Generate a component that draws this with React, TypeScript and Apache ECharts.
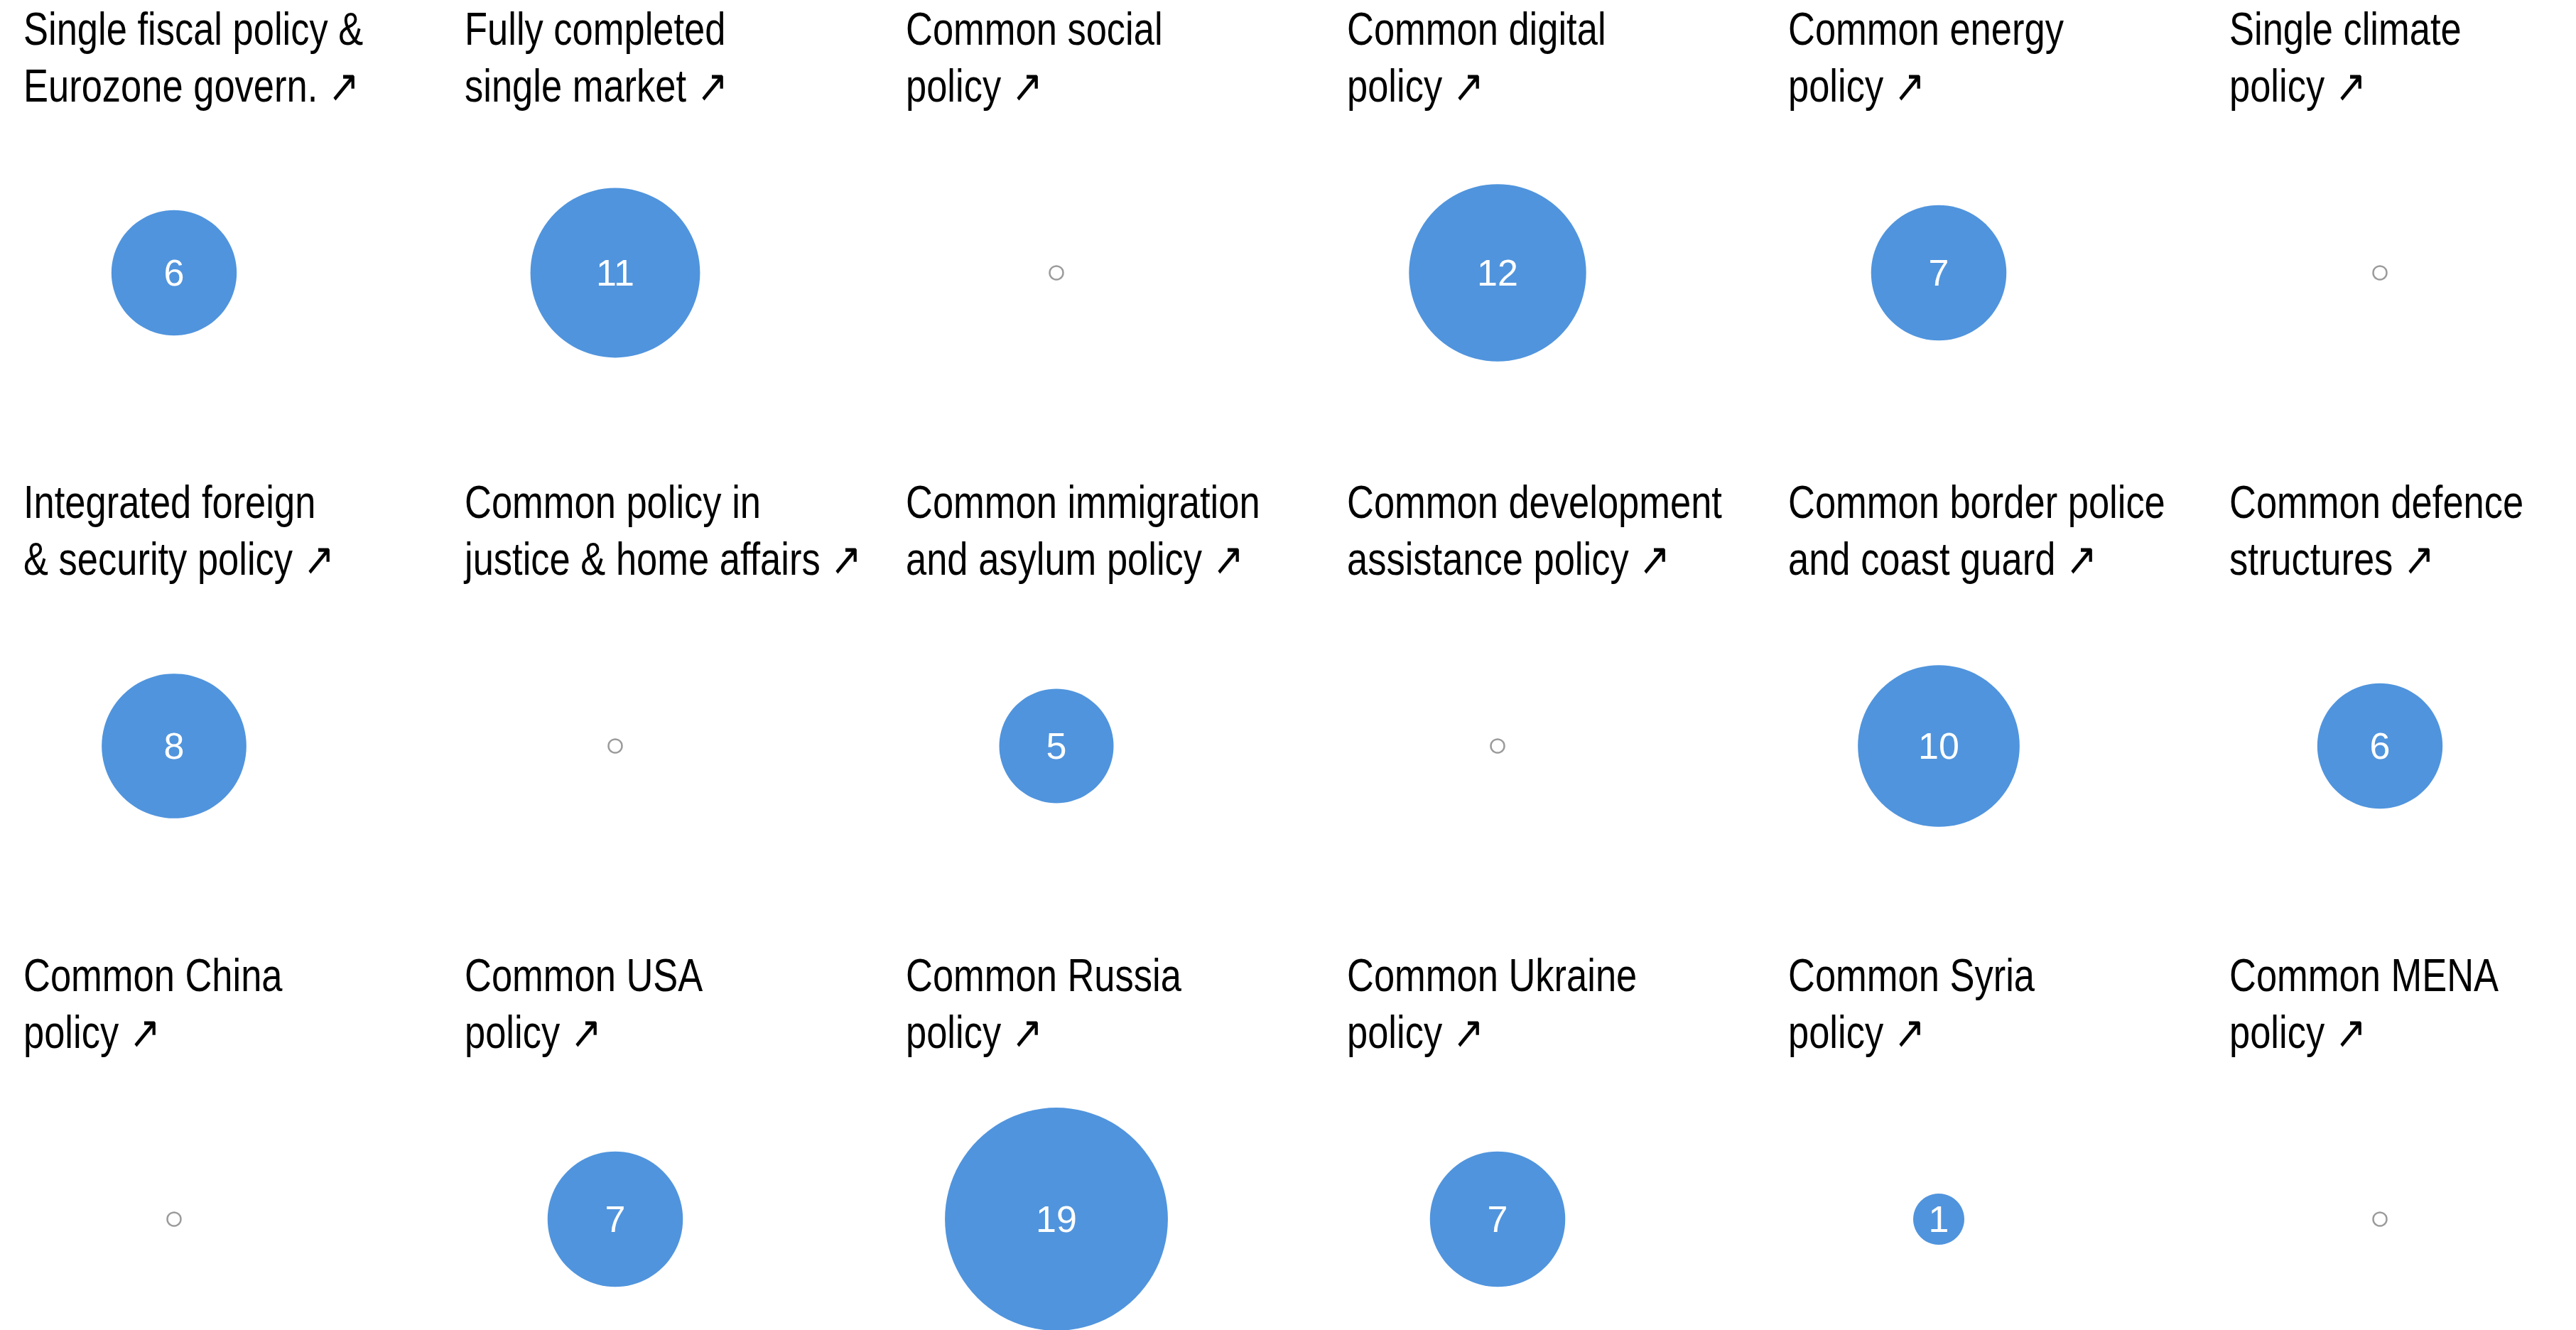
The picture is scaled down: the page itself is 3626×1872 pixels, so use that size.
import React, { useEffect, useRef } from "react";
import * as echarts from "echarts";

const titles: string[] = [
  "Single fiscal policy &\nEurozone govern. ↗",
  "Fully completed\nsingle market ↗",
  "Common social\npolicy ↗",
  "Common digital\npolicy ↗",
  "Common energy\npolicy ↗",
  "Single climate\npolicy ↗",
  "Integrated foreign\n& security policy ↗",
  "Common policy in\njustice & home affairs ↗",
  "Common immigration\nand asylum policy ↗",
  "Common development\nassistance policy ↗",
  "Common border police\nand coast guard ↗",
  "Common defence\nstructures ↗",
  "Common China\npolicy ↗",
  "Common USA\npolicy ↗",
  "Common Russia\npolicy ↗",
  "Common Ukraine\npolicy ↗",
  "Common Syria\npolicy ↗",
  "Common MENA\npolicy ↗",
];

const values: number[] = [6, 11, 0, 12, 7, 0, 8, 0, 5, 0, 10, 6, 0, 7, 19, 7, 1, 0];

const NCOLS = 6;
const FONT = "'Liberation Sans', Arial, sans-serif";
const BLUE = "#5094dd";

export default function App() {
  const ref = useRef<HTMLDivElement>(null);
  useEffect(() => {
    if (!ref.current) return;
    const chart = echarts.init(ref.current, undefined, { renderer: "svg" });
    const colW = 621;
    const rowH = 666;
    const data = values.map((v, i) => [i % NCOLS, Math.floor(i / NCOLS), v]);
    chart.setOption({
      animation: false,
      backgroundColor: "#ffffff",
      graphic: titles.map((t, i) => ({
        type: "text",
        x: 33 + colW * (i % NCOLS),
        y: 1 + rowH * Math.floor(i / NCOLS),
        scaleX: 0.82,
        silent: true,
        style: {
          text: t,
          fontFamily: FONT,
          fontSize: 64,
          lineHeight: 80,
          fill: "#000000",
          verticalAlign: "top",
          align: "left",
        },
      })),
      grid: { left: 245, right: 276, top: 384, bottom: 156 },
      xAxis: { type: "value", min: 0, max: 5, show: false },
      yAxis: { type: "value", min: 0, max: 2, inverse: true, show: false },
      series: [
        {
          type: "scatter",
          data: data.map((d) => ({
            value: d,
            itemStyle:
              d[2] > 0
                ? { color: BLUE, opacity: 1 }
                : { color: "#ffffff", borderColor: "#9a9a9a", borderWidth: 2.5, opacity: 1 },
            label: { show: d[2] > 0 },
          })),
          symbol: "circle",
          symbolSize: (v: number[]) => (v[2] > 0 ? 72 * Math.sqrt(v[2]) : 19),
          itemStyle: { opacity: 1 },
          label: {
            position: "inside",
            formatter: (p: any) => String(p.value[2]),
            color: "#ffffff",
            fontFamily: FONT,
            fontSize: 52,
          },
          emphasis: { disabled: true },
        },
      ],
    });
    return () => chart.dispose();
  }, []);
  return (
    <div
      ref={ref}
      style={{ position: "absolute", left: 0, top: 0, width: 3626, height: 1872 }}
    />
  );
}
